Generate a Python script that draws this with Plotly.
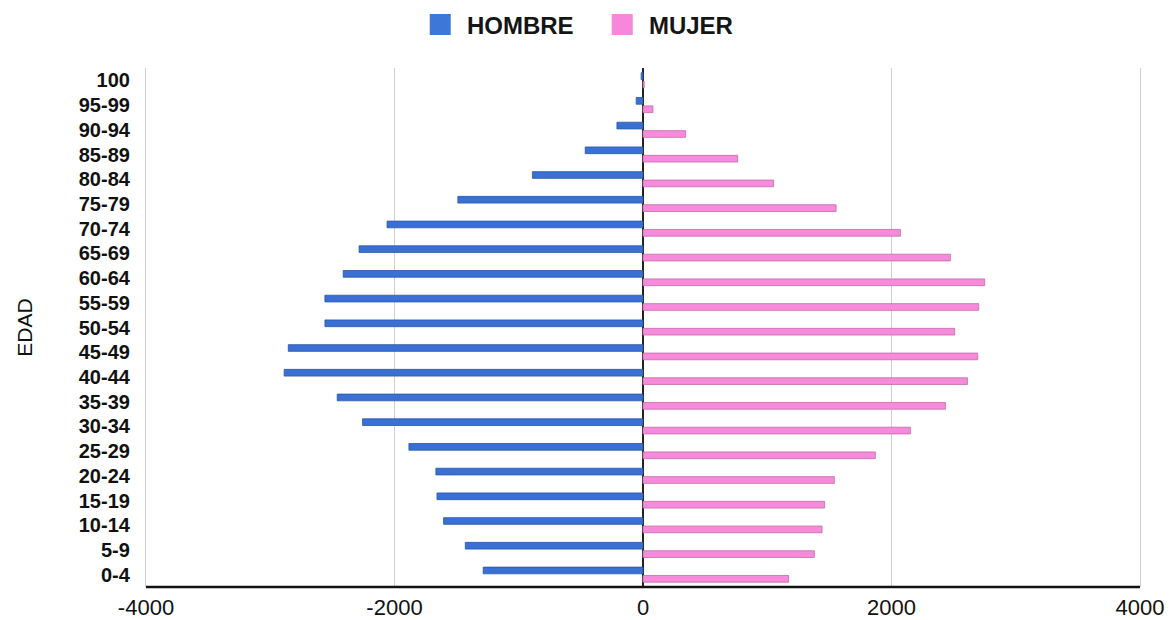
import plotly.graph_objects as go

# Age groups, bottom to top
edades = ["0-4", "5-9", "10-14", "15-19", "20-24", "25-29", "30-34", "35-39",
          "40-44", "45-49", "50-54", "55-59", "60-64", "65-69", "70-74",
          "75-79", "80-84", "85-89", "90-94", "95-99", "100"]

# Population by sex (men drawn to the left as negative values)
hombre = [-1286, -1430, -1605, -1658, -1667, -1884, -2257, -2461,
          -2888, -2855, -2560, -2560, -2413, -2285, -2060,
          -1490, -890, -465, -210, -55, -15]
mujer = [1172, 1379, 1441, 1462, 1540, 1870, 2152, 2434,
         2611, 2694, 2509, 2702, 2750, 2474, 2072,
         1554, 1051, 762, 343, 80, 10]

x_ticks = [-4000, -2000, 0, 2000, 4000]

AZUL = "#3a6fd3"
ROSA = "#f68bdc"
FUENTE = "Liberation Sans, Arial, sans-serif"

fig = go.Figure()

# MUJER first so it sits below HOMBRE within each age group
fig.add_trace(go.Bar(
    y=edades, x=mujer, orientation="h", name="MUJER",
    marker=dict(color=ROSA, line=dict(color="#c46aa8", width=0.8)),
    showlegend=False,
))
fig.add_trace(go.Bar(
    y=edades, x=hombre, orientation="h", name="HOMBRE",
    marker=dict(color=AZUL, line=dict(color="#2a58a8", width=0.8)),
    showlegend=False,
))

# Legend entries with large square swatches
fig.add_trace(go.Scatter(
    x=[None], y=[None], mode="markers", name=" HOMBRE", legendrank=1,
    marker=dict(symbol="square", size=24, color="#3d78d8",
                line=dict(color="#3d78d8", width=5)),
))
fig.add_trace(go.Scatter(
    x=[None], y=[None], mode="markers", name=" MUJER", legendrank=2,
    marker=dict(symbol="square", size=24, color="#f787dd",
                line=dict(color="#f787dd", width=5)),
))

fig.update_layout(
    width=1170, height=620,
    margin=dict(l=146, r=30, t=68, b=33),
    paper_bgcolor="white", plot_bgcolor="white",
    barmode="group", bargap=0.32, bargroupgap=0.2,
    font=dict(family=FUENTE, color="#111"),
    legend=dict(
        orientation="h", x=0.459, xanchor="center", y=0.996, yanchor="top",
        yref="container",
        font=dict(size=24, family=FUENTE, weight="bold", color="#151515"),
        itemsizing="trace", traceorder="normal", entrywidth=137,
    ),
    xaxis=dict(
        range=[-4000, 4000], tickvals=x_ticks,
        ticktext=[str(v) for v in x_ticks],
        showgrid=True, gridcolor="#cfcfcf", gridwidth=1.2,
        zeroline=True, zerolinecolor="#222", zerolinewidth=2,
        showline=False, automargin=False,
        tickfont=dict(size=22, color="#111"),
        ticklabelstandoff=5,
        ticks="", fixedrange=True,
    ),
    yaxis=dict(
        categoryorder="array", categoryarray=edades,
        range=[-0.5, len(edades) - 0.5],
        title=dict(text="EDAD", font=dict(size=21, color="#111"), standoff=40),
        tickfont=dict(size=20, color="#111", weight="bold"),
        ticklabelstandoff=11, automargin=False,
        ticks="", showgrid=False,
        showline=True, linecolor="#cfcfcf", linewidth=1.2, mirror=True,
    ),
)

# Black baseline along the bottom of the plot area
fig.add_shape(type="line", xref="paper", yref="paper",
              x0=0, x1=1, y0=0, y1=0, line=dict(color="#111", width=2.5))

fig.write_html("out.html")
